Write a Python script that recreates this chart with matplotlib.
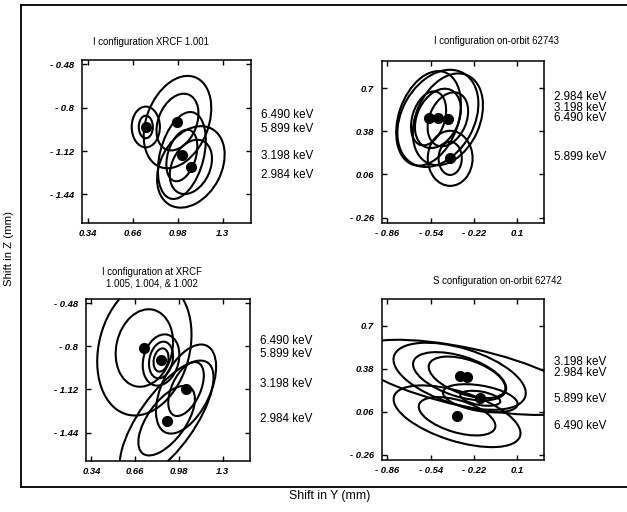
import numpy as np
import matplotlib
matplotlib.use("Agg")
import matplotlib.pyplot as plt
from matplotlib.patches import Ellipse

# ---------------- data ----------------
# Each panel: dot centres (Y, Z) per energy, and error ellipses given by
# half-extent in Y, half-extent in Z and correlation, attached to a dot index.

# Panel 1: I configuration XRCF 1.001
p1_energy = ["6.490 keV", "5.899 keV", "3.198 keV", "2.984 keV"]
p1_y = [0.978, 0.753, 1.009, 1.073]
p1_z = [-0.907, -0.943, -1.153, -1.237]
p1_ell_idx = [0, 0, 1, 1, 2, 2, 3, 3]
p1_ell_sy = [0.24, 0.149, 0.10, 0.05, 0.17, 0.11, 0.24, 0.15]
p1_ell_sz = [0.34, 0.209, 0.15, 0.083, 0.32, 0.19, 0.30, 0.20]
p1_ell_rho = [0.30, 0.30, 0.0, 0.0, 0.35, 0.35, 0.30, 0.30]

# Panel 2: I configuration on-orbit 62743
p2_energy = ["2.984 keV", "3.198 keV", "6.490 keV", "5.899 keV"]
p2_y = [-0.555, -0.486, -0.412, -0.395]
p2_z = [0.475, 0.475, 0.468, 0.179]
p2_ell_idx = [0, 0, 1, 1, 2, 2, 3, 3]
p2_ell_sy = [0.24, 0.13, 0.30, 0.17, 0.26, 0.15, 0.166, 0.086]
p2_ell_sz = [0.35, 0.20, 0.36, 0.22, 0.34, 0.20, 0.204, 0.123]
p2_ell_rho = [0.30, 0.30, 0.30, 0.30, 0.30, 0.30, 0.0, 0.0]

# Panel 3: I configuration at XRCF 1.005, 1.004, & 1.002
p3_energy = ["6.490 keV", "5.899 keV", "3.198 keV", "2.984 keV"]
p3_y = [0.727, 0.849, 1.032, 0.890]
p3_z = [-0.813, -0.902, -1.117, -1.351]
p3_ell_idx = [0, 0, 1, 1, 1, 2, 2, 3, 3]
p3_ell_sy = [0.345, 0.21, 0.134, 0.088, 0.055, 0.22, 0.13, 0.343, 0.207]
p3_ell_sz = [0.50, 0.287, 0.19, 0.136, 0.086, 0.33, 0.20, 0.445, 0.258]
p3_ell_rho = [0.20, 0.15, 0.20, 0.20, 0.20, 0.50, 0.50, 0.72, 0.62]

# Panel 4: S configuration on-orbit 62742
p4_energy = ["3.198 keV", "2.984 keV", "5.899 keV", "6.490 keV"]
p4_y = [-0.325, -0.270, -0.172, -0.344]
p4_z = [0.324, 0.316, 0.160, 0.026]
p4_ell_idx = [0, 0, 1, 1, 2, 2, 3, 3]
p4_ell_sy = [0.49, 0.345, 0.84, 0.284, 0.277, 0.148, 0.47, 0.284]
p4_ell_sz = [0.25, 0.18, 0.28, 0.155, 0.105, 0.056, 0.23, 0.143]
p4_ell_rho = [-0.50, -0.50, -0.61, -0.50, -0.40, -0.40, -0.55, -0.50]

titles = ["I configuration XRCF 1.001",
          "I configuration on-orbit 62743",
          "I configuration at XRCF\n1.005, 1.004, & 1.002",
          "S configuration on-orbit 62742"]

xticks_I = [0.34, 0.66, 0.98, 1.3]
yticks_I = [-0.48, -0.8, -1.12, -1.44]
xticks_O = [-0.86, -0.54, -0.22, 0.1]
yticks_O = [0.7, 0.38, 0.06, -0.26]

xlim_I, ylim_I = (0.3, 1.5), (-1.65, -0.45)
xlim_O, ylim_O = (-0.9, 0.3), (-0.3, 0.9)

# label heights (data units, layout only)
p1_lab_z = [-0.858, -0.958, -1.159, -1.296]
p2_lab_z = [0.635, 0.555, 0.475, 0.19]
p3_lab_z = [-0.763, -0.859, -1.083, -1.34]
p4_lab_z = [0.427, 0.345, 0.152, -0.043]

# ---------------- figure ----------------
W, H = 627, 512
fig = plt.figure(figsize=(W / 100, H / 100), dpi=100)
fig.patch.set_facecolor("white")
FONT = "Liberation Sans"


def rect(l, t, r, b):
    return [l / W, 1 - b / H, (r - l) / W, (b - t) / H]


def fmt(v):
    return f"- {abs(v):g}" if v < 0 else f"{v:g}"


def ellipse_from_extents(cx, cz, sy, sz, rho):
    cov = np.array([[sy * sy, rho * sy * sz], [rho * sy * sz, sz * sz]])
    vals, vecs = np.linalg.eigh(cov)
    major = vecs[:, 1]
    ang = np.degrees(np.arctan2(major[1], major[0]))
    return Ellipse((cx, cz), 2 * np.sqrt(vals[1]), 2 * np.sqrt(vals[0]), angle=ang,
                   fill=False, edgecolor="black", lw=1.5)


panels = [
    dict(box=(82, 60, 251, 223), y=p1_y, z=p1_z, idx=p1_ell_idx, sy=p1_ell_sy,
         sz=p1_ell_sz, rho=p1_ell_rho, en=p1_energy, lz=p1_lab_z,
         xt=xticks_I, yt=yticks_I, xl=xlim_I, yl=ylim_I, title=titles[0], ty=42, tx=151),
    dict(box=(382, 61, 544, 223), y=p2_y, z=p2_z, idx=p2_ell_idx, sy=p2_ell_sy,
         sz=p2_ell_sz, rho=p2_ell_rho, en=p2_energy, lz=p2_lab_z,
         xt=xticks_O, yt=yticks_O, xl=xlim_O, yl=ylim_O, title=titles[1], ty=41, tx=497),
    dict(box=(86, 299, 250, 461), y=p3_y, z=p3_z, idx=p3_ell_idx, sy=p3_ell_sy,
         sz=p3_ell_sz, rho=p3_ell_rho, en=p3_energy, lz=p3_lab_z,
         xt=xticks_I, yt=yticks_I, xl=xlim_I, yl=ylim_I, title=titles[2], ty=278, tx=152),
    dict(box=(382, 299, 544, 460), y=p4_y, z=p4_z, idx=p4_ell_idx, sy=p4_ell_sy,
         sz=p4_ell_sz, rho=p4_ell_rho, en=p4_energy, lz=p4_lab_z,
         xt=xticks_O, yt=yticks_O, xl=xlim_O, yl=ylim_O, title=titles[3], ty=281, tx=497),
]

for p in panels:
    l, t, r, b = p["box"]
    ax = fig.add_axes(rect(l, t, r, b))
    ax.set_xlim(*p["xl"])
    ax.set_ylim(*p["yl"])
    for i, sy, sz, rho in zip(p["idx"], p["sy"], p["sz"], p["rho"]):
        ax.add_patch(ellipse_from_extents(p["y"][i], p["z"][i], sy, sz, rho))
    ax.plot(p["y"], p["z"], "o", color="black", ms=7, zorder=5)
    ax.set_xticks(p["xt"])
    ax.set_yticks(p["yt"])
    ax.set_xticklabels([fmt(v) for v in p["xt"]])
    ax.set_yticklabels([fmt(v) for v in p["yt"]])
    ax.tick_params(direction="in", length=3.5, width=1.0, top=True, right=True,
                   labelsize=6.8, pad=4)
    ax.tick_params(axis="y", pad=6)
    for lab in ax.get_xticklabels() + ax.get_yticklabels():
        lab.set_fontfamily(FONT)
        lab.set_fontweight("bold")
        lab.set_fontstyle("italic")
    for s in ax.spines.values():
        s.set_linewidth(1.1)
    for en, zz in zip(p["en"], p["lz"]):
        ax.text(1.0 + 10 / (r - l), zz, en, transform=ax.get_yaxis_transform(),
                ha="left", va="center", fontsize=8.4, family=FONT, clip_on=False)
    fig.text(p["tx"] / W, 1 - p["ty"] / H, p["title"], ha="center", va="center",
             fontsize=6.9, family=FONT, linespacing=1.25)

# outer frame
frame = fig.add_axes([20.5 / W, 1 - 487 / H, (640 - 20.5) / W, (487 - 5) / H])
frame.set_xticks([])
frame.set_yticks([])
frame.patch.set_alpha(0)
for s in frame.spines.values():
    s.set_linewidth(1.3)
frame.set_zorder(-1)

fig.text(9 / W, 1 - 249 / H, "Shift in Z (mm)", rotation=90, ha="center", va="center",
         fontsize=8.2, family=FONT)
fig.text(330 / W, 1 - 496 / H, "Shift in Y (mm)", ha="center", va="center",
         fontsize=8.8, family=FONT)

fig.savefig("out.png", dpi=100, facecolor="white")
